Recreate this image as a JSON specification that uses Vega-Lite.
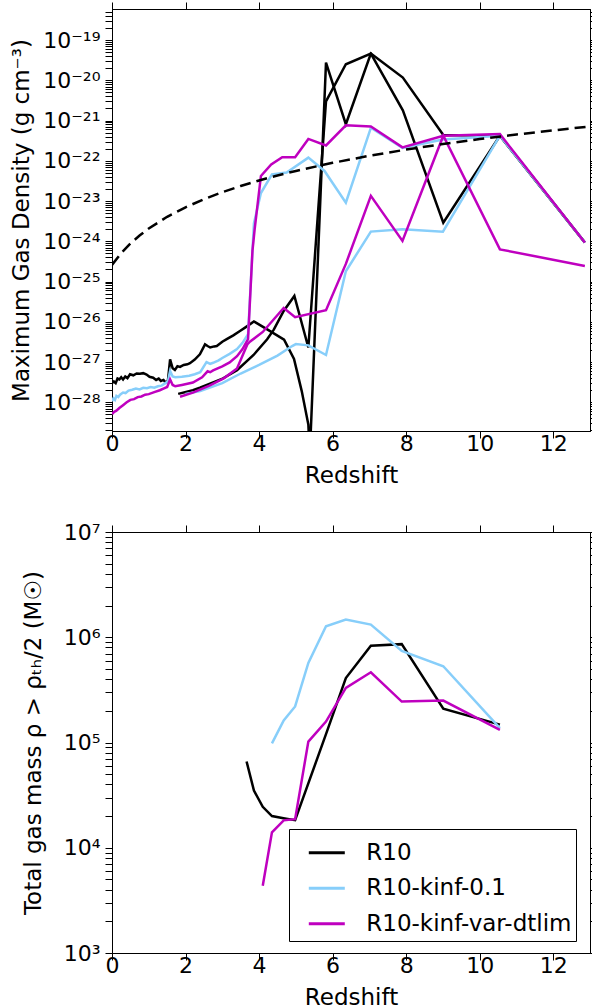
{
  "$schema": "https://vega.github.io/schema/vega-lite/v6.json",
  "padding": {"left": 10, "top": 0, "right": 2, "bottom": 2},
  "bounds": "flush",
  "spacing": 101,
  "config": {
    "font": "DejaVu Sans",
    "view": {"stroke": "black", "strokeWidth": 1},
    "axis": {
      "grid": false, "domainColor": "black", "domainWidth": 1, "tickColor": "black", "tickWidth": 1,
      "labelColor": "black", "titleColor": "black", "labelFontSize": 22, "titleFontSize": 23,
      "titleFontWeight": "normal", "tickSize": 7, "labelPadding": 5, "labelFlush": false, "labelOverlap": false
    },
    "axisX": {"labelPadding": -5, "titlePadding": 10}
  },
  "resolve": {"scale": {"color": "independent"}, "legend": {"color": "independent"}},
  "datasets": {
    "dens": [
      {"z": 0, "v": 3.0e-28, "run": "R10", "part": "a"},
      {"z": 0.05, "v": 3.3e-28, "run": "R10", "part": "a"},
      {"z": 0.1, "v": 3.0e-28, "run": "R10", "part": "a"},
      {"z": 0.15, "v": 3.9e-28, "run": "R10", "part": "a"},
      {"z": 0.2, "v": 3.7e-28, "run": "R10", "part": "a"},
      {"z": 0.25, "v": 4.2e-28, "run": "R10", "part": "a"},
      {"z": 0.3, "v": 3.7e-28, "run": "R10", "part": "a"},
      {"z": 0.36, "v": 4.4e-28, "run": "R10", "part": "a"},
      {"z": 0.42, "v": 4.0e-28, "run": "R10", "part": "a"},
      {"z": 0.49, "v": 5.0e-28, "run": "R10", "part": "a"},
      {"z": 0.58, "v": 4.7e-28, "run": "R10", "part": "a"},
      {"z": 0.67, "v": 5.2e-28, "run": "R10", "part": "a"},
      {"z": 0.76, "v": 5.1e-28, "run": "R10", "part": "a"},
      {"z": 0.85, "v": 5.3e-28, "run": "R10", "part": "a"},
      {"z": 0.94, "v": 4.9e-28, "run": "R10", "part": "a"},
      {"z": 1.02, "v": 4.3e-28, "run": "R10", "part": "a"},
      {"z": 1.12, "v": 4.1e-28, "run": "R10", "part": "a"},
      {"z": 1.2, "v": 3.6e-28, "run": "R10", "part": "a"},
      {"z": 1.27, "v": 3.9e-28, "run": "R10", "part": "a"},
      {"z": 1.33, "v": 3.4e-28, "run": "R10", "part": "a"},
      {"z": 1.4, "v": 3.6e-28, "run": "R10", "part": "a"},
      {"z": 1.46, "v": 3.1e-28, "run": "R10", "part": "a"},
      {"z": 1.52, "v": 3.4e-28, "run": "R10", "part": "a"},
      {"z": 1.58, "v": 1.17e-27, "run": "R10", "part": "a"},
      {"z": 1.65, "v": 7.0e-28, "run": "R10", "part": "a"},
      {"z": 1.71, "v": 6.4e-28, "run": "R10", "part": "a"},
      {"z": 1.78, "v": 7.9e-28, "run": "R10", "part": "a"},
      {"z": 1.85, "v": 7.6e-28, "run": "R10", "part": "a"},
      {"z": 1.95, "v": 8.5e-28, "run": "R10", "part": "a"},
      {"z": 2.05, "v": 8.8e-28, "run": "R10", "part": "a"},
      {"z": 2.12, "v": 9.4e-28, "run": "R10", "part": "a"},
      {"z": 2.25, "v": 1.15e-27, "run": "R10", "part": "a"},
      {"z": 2.39, "v": 1.56e-27, "run": "R10", "part": "a"},
      {"z": 2.53, "v": 2.75e-27, "run": "R10", "part": "a"},
      {"z": 2.6, "v": 2.5e-27, "run": "R10", "part": "a"},
      {"z": 2.67, "v": 2.3e-27, "run": "R10", "part": "a"},
      {"z": 2.78, "v": 2.45e-27, "run": "R10", "part": "a"},
      {"z": 2.85, "v": 2.5e-27, "run": "R10", "part": "a"},
      {"z": 3.0, "v": 3.2e-27, "run": "R10", "part": "a"},
      {"z": 3.12, "v": 3.7e-27, "run": "R10", "part": "a"},
      {"z": 3.3, "v": 4.6e-27, "run": "R10", "part": "a"},
      {"z": 3.48, "v": 5.9e-27, "run": "R10", "part": "a"},
      {"z": 3.65, "v": 7.5e-27, "run": "R10", "part": "a"},
      {"z": 3.86, "v": 1.02e-26, "run": "R10", "part": "a"},
      {"z": 4.21, "v": 6.6e-27, "run": "R10", "part": "a"},
      {"z": 4.68, "v": 3.6e-27, "run": "R10", "part": "a"},
      {"z": 4.95, "v": 1.2e-27, "run": "R10", "part": "a"},
      {"z": 5.16, "v": 1.9e-28, "run": "R10", "part": "a"},
      {"z": 5.34, "v": 2.8e-29, "run": "R10", "part": "a"},
      {"z": 5.38, "v": 5e-30, "run": "R10", "part": "a"},
      {"z": 5.82, "v": 2.74e-20, "run": "R10", "part": "a"},
      {"z": 6.36, "v": 8.1e-22, "run": "R10", "part": "a"},
      {"z": 7.04, "v": 4.6e-20, "run": "R10", "part": "a"},
      {"z": 7.91, "v": 1.17e-20, "run": "R10", "part": "a"},
      {"z": 9.01, "v": 4.4e-22, "run": "R10", "part": "a"},
      {"z": 10.55, "v": 4.2e-22, "run": "R10", "part": "a"},
      {"z": 12.86, "v": 9.3e-25, "run": "R10", "part": "a"},

      {"z": 1.8, "v": 1.62e-28, "run": "R10", "part": "b"},
      {"z": 2.2, "v": 2.0e-28, "run": "R10", "part": "b"},
      {"z": 2.39, "v": 2.3e-28, "run": "R10", "part": "b"},
      {"z": 2.99, "v": 3.8e-28, "run": "R10", "part": "b"},
      {"z": 3.4, "v": 6.3e-28, "run": "R10", "part": "b"},
      {"z": 3.85, "v": 1.5e-27, "run": "R10", "part": "b"},
      {"z": 4.22, "v": 3.7e-27, "run": "R10", "part": "b"},
      {"z": 4.4, "v": 6.4e-27, "run": "R10", "part": "b"},
      {"z": 4.67, "v": 1.86e-26, "run": "R10", "part": "b"},
      {"z": 4.96, "v": 4.4e-26, "run": "R10", "part": "b"},
      {"z": 5.34, "v": 2.3e-27, "run": "R10", "part": "b"},
      {"z": 5.82, "v": 3.0e-21, "run": "R10", "part": "b"},
      {"z": 6.36, "v": 2.5e-20, "run": "R10", "part": "b"},
      {"z": 7.04, "v": 4.6e-20, "run": "R10", "part": "b"},
      {"z": 7.91, "v": 1.8e-21, "run": "R10", "part": "b"},
      {"z": 9.01, "v": 2.9e-24, "run": "R10", "part": "b"},
      {"z": 10.55, "v": 4.2e-22, "run": "R10", "part": "b"},
      {"z": 12.86, "v": 9.3e-25, "run": "R10", "part": "b"},

      {"z": 0, "v": 1.07e-28, "run": "R10-kinf-0.1", "part": "a"},
      {"z": 0.04, "v": 1.25e-28, "run": "R10-kinf-0.1", "part": "a"},
      {"z": 0.08, "v": 1.15e-28, "run": "R10-kinf-0.1", "part": "a"},
      {"z": 0.12, "v": 1.45e-28, "run": "R10-kinf-0.1", "part": "a"},
      {"z": 0.17, "v": 1.35e-28, "run": "R10-kinf-0.1", "part": "a"},
      {"z": 0.22, "v": 1.55e-28, "run": "R10-kinf-0.1", "part": "a"},
      {"z": 0.3, "v": 1.75e-28, "run": "R10-kinf-0.1", "part": "a"},
      {"z": 0.37, "v": 1.7e-28, "run": "R10-kinf-0.1", "part": "a"},
      {"z": 0.45, "v": 1.95e-28, "run": "R10-kinf-0.1", "part": "a"},
      {"z": 0.55, "v": 2.05e-28, "run": "R10-kinf-0.1", "part": "a"},
      {"z": 0.65, "v": 2.2e-28, "run": "R10-kinf-0.1", "part": "a"},
      {"z": 0.75, "v": 2.1e-28, "run": "R10-kinf-0.1", "part": "a"},
      {"z": 0.85, "v": 2.3e-28, "run": "R10-kinf-0.1", "part": "a"},
      {"z": 0.95, "v": 2.25e-28, "run": "R10-kinf-0.1", "part": "a"},
      {"z": 1.05, "v": 2.4e-28, "run": "R10-kinf-0.1", "part": "a"},
      {"z": 1.15, "v": 2.3e-28, "run": "R10-kinf-0.1", "part": "a"},
      {"z": 1.25, "v": 2.5e-28, "run": "R10-kinf-0.1", "part": "a"},
      {"z": 1.35, "v": 2.6e-28, "run": "R10-kinf-0.1", "part": "a"},
      {"z": 1.45, "v": 3.0e-28, "run": "R10-kinf-0.1", "part": "a"},
      {"z": 1.52, "v": 3.3e-28, "run": "R10-kinf-0.1", "part": "a"},
      {"z": 1.58, "v": 6.0e-28, "run": "R10-kinf-0.1", "part": "a"},
      {"z": 1.65, "v": 4.4e-28, "run": "R10-kinf-0.1", "part": "a"},
      {"z": 1.72, "v": 4.2e-28, "run": "R10-kinf-0.1", "part": "a"},
      {"z": 1.9, "v": 4.3e-28, "run": "R10-kinf-0.1", "part": "a"},
      {"z": 2.1, "v": 4.6e-28, "run": "R10-kinf-0.1", "part": "a"},
      {"z": 2.25, "v": 5.0e-28, "run": "R10-kinf-0.1", "part": "a"},
      {"z": 2.4, "v": 5.6e-28, "run": "R10-kinf-0.1", "part": "a"},
      {"z": 2.57, "v": 1.0e-27, "run": "R10-kinf-0.1", "part": "a"},
      {"z": 2.67, "v": 9.0e-28, "run": "R10-kinf-0.1", "part": "a"},
      {"z": 2.75, "v": 9.6e-28, "run": "R10-kinf-0.1", "part": "a"},
      {"z": 2.9, "v": 1.1e-27, "run": "R10-kinf-0.1", "part": "a"},
      {"z": 3.0, "v": 1.26e-27, "run": "R10-kinf-0.1", "part": "a"},
      {"z": 3.2, "v": 1.6e-27, "run": "R10-kinf-0.1", "part": "a"},
      {"z": 3.4, "v": 2.1e-27, "run": "R10-kinf-0.1", "part": "a"},
      {"z": 3.55, "v": 3.0e-27, "run": "R10-kinf-0.1", "part": "a"},
      {"z": 3.7, "v": 4.9e-27, "run": "R10-kinf-0.1", "part": "a"},
      {"z": 3.86, "v": 2.8e-24, "run": "R10-kinf-0.1", "part": "a"},
      {"z": 4.05, "v": 1.58e-23, "run": "R10-kinf-0.1", "part": "a"},
      {"z": 4.35, "v": 4.6e-23, "run": "R10-kinf-0.1", "part": "a"},
      {"z": 4.75, "v": 5.1e-23, "run": "R10-kinf-0.1", "part": "a"},
      {"z": 5.34, "v": 1.2e-22, "run": "R10-kinf-0.1", "part": "a"},
      {"z": 5.78, "v": 5.6e-23, "run": "R10-kinf-0.1", "part": "a"},
      {"z": 6.36, "v": 9.1e-24, "run": "R10-kinf-0.1", "part": "a"},
      {"z": 7.04, "v": 6.6e-22, "run": "R10-kinf-0.1", "part": "a"},
      {"z": 7.9, "v": 2.1e-22, "run": "R10-kinf-0.1", "part": "a"},
      {"z": 9.0, "v": 3.4e-22, "run": "R10-kinf-0.1", "part": "a"},
      {"z": 10.55, "v": 4.2e-22, "run": "R10-kinf-0.1", "part": "a"},
      {"z": 12.86, "v": 9.3e-25, "run": "R10-kinf-0.1", "part": "a"},

      {"z": 2.0, "v": 1.62e-28, "run": "R10-kinf-0.1", "part": "b"},
      {"z": 2.4, "v": 1.9e-28, "run": "R10-kinf-0.1", "part": "b"},
      {"z": 3.0, "v": 3.0e-28, "run": "R10-kinf-0.1", "part": "b"},
      {"z": 3.5, "v": 5.2e-28, "run": "R10-kinf-0.1", "part": "b"},
      {"z": 4.0, "v": 8.5e-28, "run": "R10-kinf-0.1", "part": "b"},
      {"z": 4.5, "v": 1.45e-27, "run": "R10-kinf-0.1", "part": "b"},
      {"z": 4.9, "v": 2.5e-27, "run": "R10-kinf-0.1", "part": "b"},
      {"z": 5.0, "v": 2.8e-27, "run": "R10-kinf-0.1", "part": "b"},
      {"z": 5.34, "v": 2.6e-27, "run": "R10-kinf-0.1", "part": "b"},
      {"z": 5.82, "v": 1.5e-27, "run": "R10-kinf-0.1", "part": "b"},
      {"z": 6.36, "v": 1.8e-25, "run": "R10-kinf-0.1", "part": "b"},
      {"z": 7.04, "v": 1.74e-24, "run": "R10-kinf-0.1", "part": "b"},
      {"z": 7.9, "v": 2.0e-24, "run": "R10-kinf-0.1", "part": "b"},
      {"z": 9.0, "v": 1.74e-24, "run": "R10-kinf-0.1", "part": "b"},
      {"z": 10.55, "v": 4.2e-22, "run": "R10-kinf-0.1", "part": "b"},

      {"z": 0, "v": 5.1e-29, "run": "R10-kinf-var-dtlim", "part": "a"},
      {"z": 0.06, "v": 5.8e-29, "run": "R10-kinf-var-dtlim", "part": "a"},
      {"z": 0.12, "v": 6.2e-29, "run": "R10-kinf-var-dtlim", "part": "a"},
      {"z": 0.2, "v": 7.2e-29, "run": "R10-kinf-var-dtlim", "part": "a"},
      {"z": 0.3, "v": 8.5e-29, "run": "R10-kinf-var-dtlim", "part": "a"},
      {"z": 0.4, "v": 1.0e-28, "run": "R10-kinf-var-dtlim", "part": "a"},
      {"z": 0.5, "v": 1.15e-28, "run": "R10-kinf-var-dtlim", "part": "a"},
      {"z": 0.6, "v": 1.2e-28, "run": "R10-kinf-var-dtlim", "part": "a"},
      {"z": 0.7, "v": 1.35e-28, "run": "R10-kinf-var-dtlim", "part": "a"},
      {"z": 0.8, "v": 1.4e-28, "run": "R10-kinf-var-dtlim", "part": "a"},
      {"z": 0.9, "v": 1.55e-28, "run": "R10-kinf-var-dtlim", "part": "a"},
      {"z": 1.0, "v": 1.6e-28, "run": "R10-kinf-var-dtlim", "part": "a"},
      {"z": 1.15, "v": 1.8e-28, "run": "R10-kinf-var-dtlim", "part": "a"},
      {"z": 1.3, "v": 2.0e-28, "run": "R10-kinf-var-dtlim", "part": "a"},
      {"z": 1.4, "v": 2.2e-28, "run": "R10-kinf-var-dtlim", "part": "a"},
      {"z": 1.5, "v": 2.4e-28, "run": "R10-kinf-var-dtlim", "part": "a"},
      {"z": 1.58, "v": 3.7e-28, "run": "R10-kinf-var-dtlim", "part": "a"},
      {"z": 1.65, "v": 2.7e-28, "run": "R10-kinf-var-dtlim", "part": "a"},
      {"z": 1.72, "v": 2.5e-28, "run": "R10-kinf-var-dtlim", "part": "a"},
      {"z": 1.9, "v": 2.7e-28, "run": "R10-kinf-var-dtlim", "part": "a"},
      {"z": 2.2, "v": 3.1e-28, "run": "R10-kinf-var-dtlim", "part": "a"},
      {"z": 2.45, "v": 4.2e-28, "run": "R10-kinf-var-dtlim", "part": "a"},
      {"z": 2.6, "v": 5.9e-28, "run": "R10-kinf-var-dtlim", "part": "a"},
      {"z": 2.67, "v": 5.6e-28, "run": "R10-kinf-var-dtlim", "part": "a"},
      {"z": 2.75, "v": 6.2e-28, "run": "R10-kinf-var-dtlim", "part": "a"},
      {"z": 3.0, "v": 7.8e-28, "run": "R10-kinf-var-dtlim", "part": "a"},
      {"z": 3.2, "v": 9.8e-28, "run": "R10-kinf-var-dtlim", "part": "a"},
      {"z": 3.4, "v": 1.4e-27, "run": "R10-kinf-var-dtlim", "part": "a"},
      {"z": 3.55, "v": 2.1e-27, "run": "R10-kinf-var-dtlim", "part": "a"},
      {"z": 3.7, "v": 3.7e-27, "run": "R10-kinf-var-dtlim", "part": "a"},
      {"z": 3.82, "v": 5.8e-25, "run": "R10-kinf-var-dtlim", "part": "a"},
      {"z": 3.88, "v": 2.0e-24, "run": "R10-kinf-var-dtlim", "part": "a"},
      {"z": 4.05, "v": 4.2e-23, "run": "R10-kinf-var-dtlim", "part": "a"},
      {"z": 4.33, "v": 8.1e-23, "run": "R10-kinf-var-dtlim", "part": "a"},
      {"z": 4.63, "v": 1.23e-22, "run": "R10-kinf-var-dtlim", "part": "a"},
      {"z": 4.98, "v": 1.23e-22, "run": "R10-kinf-var-dtlim", "part": "a"},
      {"z": 5.34, "v": 3.5e-22, "run": "R10-kinf-var-dtlim", "part": "a"},
      {"z": 5.82, "v": 2.4e-22, "run": "R10-kinf-var-dtlim", "part": "a"},
      {"z": 6.36, "v": 7.6e-22, "run": "R10-kinf-var-dtlim", "part": "a"},
      {"z": 7.04, "v": 7.1e-22, "run": "R10-kinf-var-dtlim", "part": "a"},
      {"z": 7.9, "v": 2.15e-22, "run": "R10-kinf-var-dtlim", "part": "a"},
      {"z": 9.01, "v": 4.2e-22, "run": "R10-kinf-var-dtlim", "part": "a"},
      {"z": 10.55, "v": 4.6e-22, "run": "R10-kinf-var-dtlim", "part": "a"},
      {"z": 12.86, "v": 9.3e-25, "run": "R10-kinf-var-dtlim", "part": "a"},

      {"z": 1.85, "v": 1.38e-28, "run": "R10-kinf-var-dtlim", "part": "b"},
      {"z": 2.2, "v": 1.74e-28, "run": "R10-kinf-var-dtlim", "part": "b"},
      {"z": 2.65, "v": 2.6e-28, "run": "R10-kinf-var-dtlim", "part": "b"},
      {"z": 3.05, "v": 4.0e-28, "run": "R10-kinf-var-dtlim", "part": "b"},
      {"z": 3.4, "v": 6.9e-28, "run": "R10-kinf-var-dtlim", "part": "b"},
      {"z": 3.68, "v": 2.75e-27, "run": "R10-kinf-var-dtlim", "part": "b"},
      {"z": 3.75, "v": 3.2e-27, "run": "R10-kinf-var-dtlim", "part": "b"},
      {"z": 4.1, "v": 5.6e-27, "run": "R10-kinf-var-dtlim", "part": "b"},
      {"z": 4.67, "v": 2.2e-26, "run": "R10-kinf-var-dtlim", "part": "b"},
      {"z": 4.98, "v": 1.3e-26, "run": "R10-kinf-var-dtlim", "part": "b"},
      {"z": 5.82, "v": 1.95e-26, "run": "R10-kinf-var-dtlim", "part": "b"},
      {"z": 6.36, "v": 2.75e-25, "run": "R10-kinf-var-dtlim", "part": "b"},
      {"z": 7.04, "v": 1.35e-23, "run": "R10-kinf-var-dtlim", "part": "b"},
      {"z": 7.9, "v": 1.02e-24, "run": "R10-kinf-var-dtlim", "part": "b"},
      {"z": 9.01, "v": 4.2e-22, "run": "R10-kinf-var-dtlim", "part": "b"},
      {"z": 10.55, "v": 6.3e-25, "run": "R10-kinf-var-dtlim", "part": "b"},
      {"z": 12.86, "v": 2.45e-25, "run": "R10-kinf-var-dtlim", "part": "b"}
    ],
    "thr": [
      {"z": 0, "v": 2.6e-25},
      {"z": 0.25, "v": 5.1e-25},
      {"z": 0.5, "v": 8.8e-25},
      {"z": 0.75, "v": 1.39e-24},
      {"z": 1.0, "v": 2.08e-24},
      {"z": 1.5, "v": 4.06e-24},
      {"z": 2.0, "v": 7.0e-24},
      {"z": 2.5, "v": 1.11e-23},
      {"z": 3.0, "v": 1.66e-23},
      {"z": 3.5, "v": 2.37e-23},
      {"z": 4.0, "v": 3.25e-23},
      {"z": 4.5, "v": 4.33e-23},
      {"z": 5.0, "v": 5.6e-23},
      {"z": 6.0, "v": 8.9e-23},
      {"z": 7.0, "v": 1.33e-22},
      {"z": 8.0, "v": 1.9e-22},
      {"z": 9.0, "v": 2.6e-22},
      {"z": 10.0, "v": 3.46e-22},
      {"z": 11.0, "v": 4.5e-22},
      {"z": 12.0, "v": 5.7e-22},
      {"z": 12.9, "v": 6.99e-22}
    ],
    "mass": [
      {"z": 3.66, "v": 66000, "run": "R10"},
      {"z": 3.86, "v": 35000, "run": "R10"},
      {"z": 4.1, "v": 24500, "run": "R10"},
      {"z": 4.35, "v": 20000, "run": "R10"},
      {"z": 4.7, "v": 19000, "run": "R10"},
      {"z": 4.98, "v": 18300, "run": "R10"},
      {"z": 5.82, "v": 120000, "run": "R10"},
      {"z": 6.36, "v": 410000, "run": "R10"},
      {"z": 7.04, "v": 830000, "run": "R10"},
      {"z": 7.88, "v": 860000, "run": "R10"},
      {"z": 9.01, "v": 210000, "run": "R10"},
      {"z": 10.55, "v": 148000, "run": "R10"},
      {"z": 4.35, "v": 98000, "run": "R10-kinf-0.1"},
      {"z": 4.67, "v": 162000, "run": "R10-kinf-0.1"},
      {"z": 4.98, "v": 220000, "run": "R10-kinf-0.1"},
      {"z": 5.34, "v": 570000, "run": "R10-kinf-0.1"},
      {"z": 5.82, "v": 1270000, "run": "R10-kinf-0.1"},
      {"z": 6.36, "v": 1470000, "run": "R10-kinf-0.1"},
      {"z": 7.04, "v": 1320000, "run": "R10-kinf-0.1"},
      {"z": 7.88, "v": 740000, "run": "R10-kinf-0.1"},
      {"z": 9.01, "v": 530000, "run": "R10-kinf-0.1"},
      {"z": 10.55, "v": 137000, "run": "R10-kinf-0.1"},
      {"z": 4.1, "v": 4350, "run": "R10-kinf-var-dtlim"},
      {"z": 4.35, "v": 14000, "run": "R10-kinf-var-dtlim"},
      {"z": 4.67, "v": 18200, "run": "R10-kinf-var-dtlim"},
      {"z": 4.98, "v": 18700, "run": "R10-kinf-var-dtlim"},
      {"z": 5.34, "v": 102000, "run": "R10-kinf-var-dtlim"},
      {"z": 5.82, "v": 158000, "run": "R10-kinf-var-dtlim"},
      {"z": 6.36, "v": 330000, "run": "R10-kinf-var-dtlim"},
      {"z": 7.04, "v": 465000, "run": "R10-kinf-var-dtlim"},
      {"z": 7.88, "v": 245000, "run": "R10-kinf-var-dtlim"},
      {"z": 9.01, "v": 250000, "run": "R10-kinf-var-dtlim"},
      {"z": 10.55, "v": 132000, "run": "R10-kinf-var-dtlim"}
    ]
  },
  "vconcat": [
    {
      "width": 478,
      "height": 422,
      "resolve": {"axis": {"x": "independent", "y": "independent"}},
      "layer": [
        {
          "data": {"name": "dens"},
          "mark": {"type": "line", "strokeWidth": 2.5, "clip": true},
          "encoding": {
            "x": {"field": "z", "type": "quantitative",
              "scale": {"domain": [0, 13], "nice": false, "zero": false},
              "axis": {"orient": "bottom", "values": [0, 2, 4, 6, 8, 10, 12], "title": "Redshift",
                "encode": {"ticks": {"y2": {"value": -7}}}}},
            "y": {"field": "v", "type": "quantitative",
              "scale": {"type": "log", "domain": [1.94e-29, 5.9e-19], "nice": false},
              "axis": {"orient": "left", "tickCount": 30, "title": "Maximum Gas Density (g cm⁻³)", "titlePadding": 9,
                "labelExpr": "abs(log(datum.value)/LN10 - round(log(datum.value)/LN10)) < 0.01 ? '10' + (round(log(datum.value)/LN10) < 0 ? '⁻' : '') + (abs(round(log(datum.value)/LN10)) >= 10 ? substring('⁰¹²³⁴⁵⁶⁷⁸⁹', floor(abs(round(log(datum.value)/LN10)) / 10), floor(abs(round(log(datum.value)/LN10)) / 10) + 1) : '') + substring('⁰¹²³⁴⁵⁶⁷⁸⁹', abs(round(log(datum.value)/LN10)) % 10, abs(round(log(datum.value)/LN10)) % 10 + 1) : ''",
                "encode": {"ticks": {"x2": {"condition": {"test": "abs(log(datum.value)/LN10 - round(log(datum.value)/LN10)) < 0.01", "value": 7}, "value": 3.5}}}}},
            "color": {"field": "run", "type": "nominal",
              "scale": {"domain": ["R10", "R10-kinf-0.1", "R10-kinf-var-dtlim"], "range": ["#000000", "#87CEFA", "#BF00BF"]},
              "legend": null},
            "detail": {"field": "part", "type": "nominal"}
          }
        },
        {
          "data": {"name": "thr"},
          "mark": {"type": "line", "strokeWidth": 2.5, "strokeDash": [11, 6], "color": "black", "clip": true},
          "encoding": {
            "x": {"field": "z", "type": "quantitative", "axis": null},
            "y": {"field": "v", "type": "quantitative", "axis": null}
          }
        },
        {
          "data": {"name": "thr"},
          "mark": {"type": "line", "opacity": 0},
          "encoding": {
            "x": {"field": "z", "type": "quantitative",
              "axis": {"orient": "top", "values": [0, 2, 4, 6, 8, 10, 12], "labels": false, "title": null,
                "encode": {"ticks": {"y2": {"value": 7}}}}},
            "y": {"field": "v", "type": "quantitative",
              "axis": {"orient": "right", "tickCount": 30, "labels": false, "title": null,
                "encode": {"ticks": {"x2": {"condition": {"test": "abs(log(datum.value)/LN10 - round(log(datum.value)/LN10)) < 0.01", "value": -7}, "value": -3.5}}}}}
          }
        }
      ]
    },
    {
      "width": 478,
      "height": 421,
      "resolve": {"axis": {"x": "independent", "y": "independent"}},
      "layer": [
        {
          "data": {"name": "mass"},
          "mark": {"type": "line", "strokeWidth": 2.5, "clip": true},
          "encoding": {
            "x": {"field": "z", "type": "quantitative",
              "scale": {"domain": [0, 13], "nice": false, "zero": false},
              "axis": {"orient": "bottom", "values": [0, 2, 4, 6, 8, 10, 12], "title": "Redshift",
                "encode": {"ticks": {"y2": {"value": -7}}}}},
            "y": {"field": "v", "type": "quantitative",
              "scale": {"type": "log", "domain": [1000, 10000000], "nice": false},
              "axis": {"orient": "left", "tickCount": 30, "title": "Total gas mass ρ > ρₜₕ/2 (M☉)", "titlePadding": 18,
                "labelExpr": "abs(log(datum.value)/LN10 - round(log(datum.value)/LN10)) < 0.01 ? '10' + (round(log(datum.value)/LN10) < 0 ? '⁻' : '') + (abs(round(log(datum.value)/LN10)) >= 10 ? substring('⁰¹²³⁴⁵⁶⁷⁸⁹', floor(abs(round(log(datum.value)/LN10)) / 10), floor(abs(round(log(datum.value)/LN10)) / 10) + 1) : '') + substring('⁰¹²³⁴⁵⁶⁷⁸⁹', abs(round(log(datum.value)/LN10)) % 10, abs(round(log(datum.value)/LN10)) % 10 + 1) : ''",
                "encode": {"ticks": {"x2": {"condition": {"test": "abs(log(datum.value)/LN10 - round(log(datum.value)/LN10)) < 0.01", "value": 7}, "value": 3.5}}}}},
            "color": {"field": "run", "type": "nominal",
              "scale": {"domain": ["R10", "R10-kinf-0.1", "R10-kinf-var-dtlim"], "range": ["#000000", "#87CEFA", "#BF00BF"]},
              "legend": {"orient": "none", "legendX": 177, "legendY": 297, "title": null,
                "symbolType": "stroke", "symbolSize": 1296, "symbolStrokeWidth": 3, "symbolOffset": 14,
                "labelFontSize": 23, "labelColor": "black", "labelOffset": 20, "labelLimit": 400,
                "padding": 4.3, "rowPadding": 3.5, "strokeColor": "black", "fillColor": "white", "cornerRadius": 0}}
          }
        },
        {
          "data": {"name": "mass"},
          "mark": {"type": "line", "opacity": 0},
          "encoding": {
            "x": {"field": "z", "type": "quantitative",
              "axis": {"orient": "top", "values": [0, 2, 4, 6, 8, 10, 12], "labels": false, "title": null,
                "encode": {"ticks": {"y2": {"value": 7}}}}},
            "y": {"field": "v", "type": "quantitative",
              "axis": {"orient": "right", "tickCount": 30, "labels": false, "title": null,
                "encode": {"ticks": {"x2": {"condition": {"test": "abs(log(datum.value)/LN10 - round(log(datum.value)/LN10)) < 0.01", "value": -7}, "value": -3.5}}}}}
          }
        }
      ]
    }
  ]
}
